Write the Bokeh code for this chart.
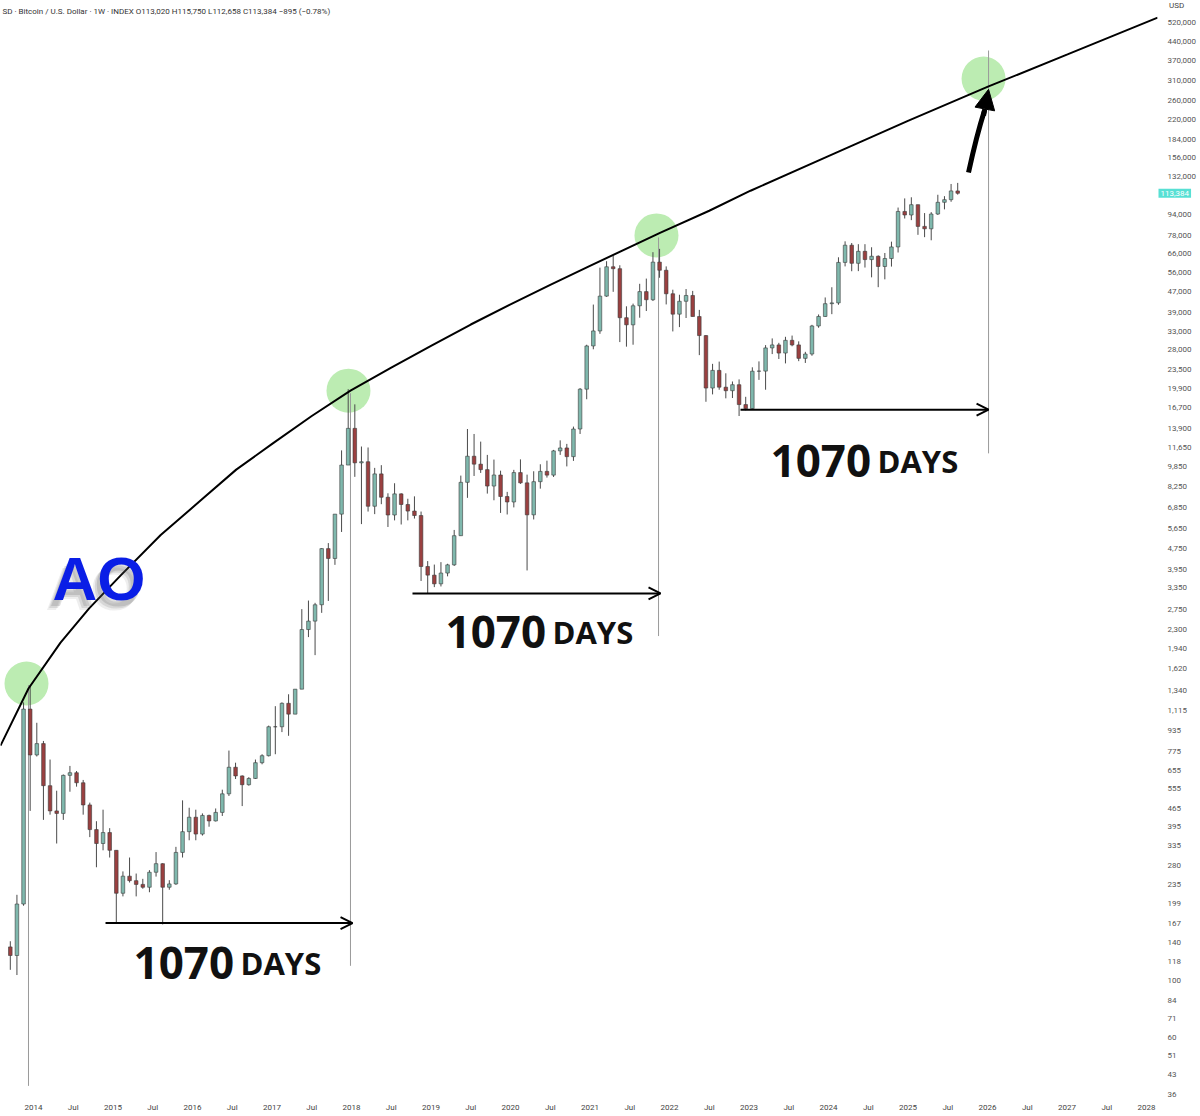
import numpy as np
import pandas as pd
from bokeh.plotting import figure
from bokeh.models import (Range1d, FixedTicker, NumeralTickFormatter, CustomJSTickFormatter,
                          Label, Arrow, OpenHead, NormalHead, ColumnDataSource)
from bokeh.embed import file_html
from bokeh.resources import INLINE

# ---------------- data (monthly OHLC) ----------------
months = pd.period_range("2013-09", "2025-08", freq="M")
opens = [135, 125, 198, 1130,
         750, 830, 570, 455, 445, 625, 640, 585, 480, 385, 340, 375,
         320, 218, 254, 244, 236, 230, 263, 284, 230, 237, 314, 378,
         430, 370, 437, 416, 449, 530, 672, 622, 575, 608, 700, 745,
         965, 965, 1190, 1080, 1350, 2300, 2480, 2870, 4740, 4340, 6450, 10000,
         13880, 10200, 10300, 6920, 9240, 7500, 6400, 7730, 7030, 6630, 6370, 4040,
         3740, 3460, 3810, 4100, 5320, 8570, 10820, 10080, 9600, 8290, 9150, 7550,
         7190, 9350, 8530, 6410, 8620, 9450, 9140, 11350, 11650, 10780, 13800, 19700,
         28990, 33140, 45240, 58800, 57800, 37300, 35000, 41500, 47100, 43800, 61300, 57000,
         46200, 38500, 43200, 45500, 37700, 31800, 19900, 23300, 20050, 19430, 20500, 17170,
         16550, 23130, 23150, 28480, 29250, 27200, 30480, 29250, 25940, 26970, 34650, 37720,
         42280, 42580, 61130, 71300, 60650, 67500, 62700, 64600, 58950, 63300, 70200, 96400,
         93400, 102400, 84350, 82550, 94200, 104600, 107100, 115800]
highs = [142, 215, 1200, 1400,
         1000, 850, 720, 545, 630, 680, 650, 600, 490, 415, 460, 390,
         320, 265, 300, 260, 248, 268, 315, 285, 245, 330, 500, 468,
         460, 445, 440, 465, 550, 780, 700, 625, 615, 720, 755, 975,
         1160, 1200, 1290, 1350, 2760, 2980, 2920, 4760, 4980, 6450, 11400, 19700,
         17200, 11800, 11700, 9750, 9990, 7770, 8500, 7770, 7400, 7560, 6600, 4240,
         4110, 4200, 4140, 5600, 9100, 13800, 13200, 12330, 10950, 10500, 9510, 7870,
         9580, 10520, 9180, 9460, 10070, 10400, 11450, 12470, 12080, 14100, 19900, 29300,
         41950, 58350, 61800, 64900, 59600, 41300, 42300, 50500, 52900, 67000, 69000, 59000,
         47900, 45800, 48200, 47400, 40000, 31950, 24700, 25200, 22700, 21100, 21500, 18400,
         23950, 25250, 29200, 31000, 29800, 31450, 31800, 30200, 27500, 35000, 38400, 44700,
         48970, 64000, 73800, 72700, 71950, 71950, 70000, 65100, 66500, 73600, 99800, 108300,
         109400, 102500, 95000, 95800, 111900, 110500, 123200, 124400]
lows = [110, 105, 195, 455,
        740, 420, 440, 340, 420, 540, 565, 440, 360, 275, 320, 300,
        167, 212, 240, 212, 227, 220, 253, 165, 225, 235, 300, 350,
        350, 365, 395, 414, 435, 520, 605, 475, 570, 605, 690, 740,
        755, 920, 890, 1080, 1350, 2150, 1830, 2670, 2970, 4100, 5500, 10400,
        9000, 5900, 6600, 6450, 7050, 5750, 6100, 5880, 6100, 6200, 3550, 3175,
        3360, 3380, 3700, 4060, 5320, 7460, 9070, 9320, 7750, 7300, 6520, 6430,
        6850, 8450, 3900, 6150, 8100, 8940, 8990, 10950, 9880, 10380, 13200, 18000,
        28130, 32300, 44950, 47000, 30000, 28800, 29300, 37300, 39600, 43300, 53300, 42000,
        33000, 34300, 37200, 37700, 26700, 17600, 18800, 19600, 18150, 18200, 15500, 16300,
        16500, 21400, 19600, 26950, 25800, 24800, 28900, 25300, 24900, 26550, 34100, 37600,
        38500, 41880, 59000, 56500, 56550, 58400, 53500, 49000, 52550, 58900, 66800, 90500,
        89200, 78200, 76600, 74500, 93400, 98200, 105100, 112000]
closes = [125, 198, 1130, 750,
          830, 570, 455, 445, 625, 640, 585, 480, 385, 340, 375, 320,
          218, 254, 244, 236, 230, 263, 284, 230, 237, 314, 378, 430,
          370, 437, 416, 449, 530, 672, 622, 575, 608, 700, 745, 965,
          965, 1190, 1080, 1350, 2300, 2480, 2870, 4740, 4340, 6450, 10000, 13880,
          10200, 10300, 6920, 9240, 7500, 6400, 7730, 7030, 6630, 6370, 4040, 3740,
          3460, 3810, 4100, 5320, 8570, 10820, 10080, 9600, 8290, 9150, 7550, 7190,
          9350, 8530, 6410, 8620, 9450, 9140, 11350, 11650, 10780, 13800, 19700, 28990,
          33140, 45240, 58800, 57800, 37300, 35000, 41500, 47100, 43800, 61300, 57000, 46200,
          38500, 43200, 45500, 37700, 31800, 19900, 23300, 20050, 19430, 20500, 17170, 16550,
          23130, 23150, 28480, 29250, 27200, 30480, 29250, 25940, 26970, 34650, 37720, 42280,
          42580, 61130, 71300, 60650, 67500, 62700, 64600, 58950, 63300, 70200, 96400, 93400,
          102400, 84350, 82550, 94200, 104600, 107100, 115800, 113384]
last_price = 113384

# fitted curve
curve_years = [2013.585, 2013.937, 2014.340, 2014.700, 2015.094, 2015.600, 2016.101, 2016.550,
               2017.006, 2017.500, 2017.987, 2018.500, 2019.006, 2019.500, 2020.0, 2020.500,
               2021.006, 2021.887, 2022.500, 2023.019, 2024.013, 2025.006, 2026.013, 2027.006, 2028.14]
curve_prices = [815, 1358, 2047, 2780, 3725, 5350, 7280, 9600,
                12110, 15500, 19440, 23900, 29050, 35100, 42000, 50000,
                59400, 79800, 97000, 116000, 158800, 217000, 294500, 392000, 545000]

# cycle tops (green circles) and vertical markers
peak_years = [2013.912, 2017.962, 2021.836, 2025.950]
peak_prices = [1420, 19440, 77800, 316000]
vline_years = [2013.937, 2017.987, 2021.862, 2026.013]
vline_top = [1400, 19000, 76400, 406000]
vline_bottom = [39, 114, 2170, 11100]

# 1070-day arrows
arrow_y = [167, 3175, 16400]
arrow_start = [2014.906, 2018.767, 2022.893]
arrow_end = [2018.013, 2021.887, 2026.013]
arrow_text = ["1070", "1070", "1070"]

# price axis ticks
price_ticks = [36, 43, 51, 60, 71, 84, 100, 118, 140, 167, 199, 235, 280, 335, 395, 465, 555, 655,
               775, 935, 1115, 1340, 1620, 1940, 2300, 2750, 3350, 3950, 4750, 5650, 6850, 8250,
               9850, 11650, 13900, 16700, 19900, 23500, 28000, 33000, 39000, 47000, 56000, 66000,
               78000, 94000, 132000, 156000, 184000, 220000, 260000, 310000, 370000, 440000, 520000]
time_ticks = [2014 + 0.5 * i for i in range(29)]


def setp(model, **kw):
    props = model.properties()
    ok = True
    for k, v in kw.items():
        if k in props:
            setattr(model, k, v)
        else:
            ok = False
    return ok


# ---------------- figure ----------------
xs = np.array([m.year + (m.month - 0.5) / 12 for m in months])
o = np.array(opens, float); c = np.array(closes, float)
inc = c >= o
src = ColumnDataSource(dict(
    x=xs, high=highs, low=lows,
    top=np.maximum(o, c), bottom=np.minimum(o, c),
    fill=np.where(inc, "#7fb8ad", "#9a4040"),
))

W, H = 1200, 1116
FRAME_W, FRAME_H = 1157, 1098
p = figure(width=W, height=H, y_axis_type="log",
           x_range=Range1d(2013.585, 2028.138), y_range=Range1d(34.84, 634700),
           output_backend="svg", toolbar_location=None, y_axis_location="right",
           min_border_left=0, min_border_top=0,
           min_border_right=W - FRAME_W, min_border_bottom=H - FRAME_H)
p.outline_line_color = None
p.grid.visible = False

# current-price marker (in the right-hand panel, over the price scale)
price_label = Label(x=1, x_units="screen", y=last_price, text="113,384",
                    text_font="Roboto", text_font_size="8px", text_color="white",
                    background_fill_color="#58e0d4", text_baseline="middle", padding=2)
p.add_layout(price_label, "right")
p.right = [price_label] + [r for r in p.right if r is not price_label]

# price axis
ya = p.yaxis[0]
ya.ticker = FixedTicker(ticks=price_ticks)
ya.formatter = NumeralTickFormatter(format="0,0")
ya.axis_line_color = None
ya.major_tick_line_color = None
ya.minor_tick_line_color = None
ya.major_tick_out = 0
ya.major_tick_in = 0
ya.minor_tick_out = 0
ya.minor_tick_in = 0
ya.major_label_standoff = -23
ya.major_label_text_font = "Roboto"
ya.major_label_text_font_size = "8px"
ya.major_label_text_color = "#555555"
if setp(ya, axis_label_orientation="horizontal", axis_label_align="end"):
    ya.axis_label = "\nUSD"
    ya.axis_label_standoff = -30
    ya.axis_label_text_font = "Roboto"
    ya.axis_label_text_font_size = "8px"
    ya.axis_label_text_font_style = "normal"
    ya.axis_label_text_color = "#444444"
else:
    ya.axis_label = None

# time axis
xa = p.xaxis[0]
xa.ticker = FixedTicker(ticks=time_ticks)
xa.formatter = CustomJSTickFormatter(code="""
    return (Math.abs(tick - Math.round(tick)) < 1e-6) ? String(Math.round(tick)) : "Jul";
""")
xa.axis_label = None
xa.axis_label_standoff = 0
xa.axis_line_color = None
xa.major_tick_line_color = None
xa.minor_tick_line_color = None
xa.major_tick_out = 0
xa.major_tick_in = 0
xa.minor_tick_out = 0
xa.minor_tick_in = 0
xa.major_label_standoff = 4
xa.major_label_text_font = "Roboto"
xa.major_label_text_font_size = "8px"
xa.major_label_text_color = "#444444"

# green circles
p.scatter(peak_years, peak_prices, size=44, marker="circle",
          fill_color="#8fdf7f", fill_alpha=0.6, line_color=None)

# vertical markers
p.segment(vline_years, vline_bottom, vline_years, vline_top, line_color="#9a9a9a", line_width=1)

# candles
p.segment("x", "high", "x", "low", source=src, line_color="#4a4a4a", line_width=1)
p.vbar(x="x", width=0.045, top="top", bottom="bottom", source=src,
       fill_color="fill", line_color="#3a3a3a", line_width=0.6)

# curve
p.line(curve_years, curve_prices, line_color="black", line_width=2)

# 1070-day arrows and labels
num_off = [(28, -40), (33, -39), (30, -51)]
for i in range(3):
    p.add_layout(Arrow(end=OpenHead(size=12, line_width=2, line_color="black"),
                       x_start=arrow_start[i], y_start=arrow_y[i],
                       x_end=arrow_end[i], y_end=arrow_y[i],
                       line_width=2, line_color="black"))
    dx, dy = num_off[i]
    p.add_layout(Label(x=arrow_start[i], y=arrow_y[i], x_offset=dx, y_offset=dy,
                       text=arrow_text[i], text_font="Open Sans", text_font_style="bold",
                       text_font_size="44px", text_color="#111111", text_baseline="alphabetic"))
    p.add_layout(Label(x=arrow_start[i], y=arrow_y[i], x_offset=dx + 107, y_offset=dy,
                       text="DAYS", text_font="Open Sans", text_font_style="bold",
                       text_font_size="31px", text_color="#111111", text_baseline="alphabetic"))

# projection arrow
p.quadratic(x0=[2025.761], y0=[136500], x1=[2025.962], y1=[237500],
            cx=[2025.862], cy=[190000], line_color="black", line_width=5)
p.add_layout(Arrow(end=NormalHead(size=20, fill_color="black", line_color="black"),
                   x_start=2025.950, y_start=227000, x_end=2026.013, y_end=287000,
                   line_width=5, line_color="black"))

# AO text with soft shadow
for (ox, oy, a) in [(-7, -10, 0.10), (-5, -8, 0.15), (-3, -6, 0.18)]:
    p.add_layout(Label(x=2014.24, y=3630, x_offset=ox, y_offset=oy, text="AO",
                       text_font="Liberation Sans", text_font_style="bold", text_font_size="62px",
                       text_color="#555555", text_alpha=a, text_baseline="middle"))
p.add_layout(Label(x=2014.24, y=3630, text="AO", text_font="Liberation Sans",
                   text_font_style="bold", text_font_size="62px", text_color="#0a1ee6",
                   text_baseline="middle"))

# header
p.add_layout(Label(x=2, x_units="screen", y=FRAME_H - 11, y_units="screen",
                   text="SD · Bitcoin / U.S. Dollar · 1W · INDEX   O113,020  H115,750  L112,658  C113,384  −895 (−0.78%)",
                   text_font="Roboto", text_font_size="8px", text_color="#333333",
                   text_baseline="middle"))

open("out.html", "w").write(file_html(p, INLINE))
